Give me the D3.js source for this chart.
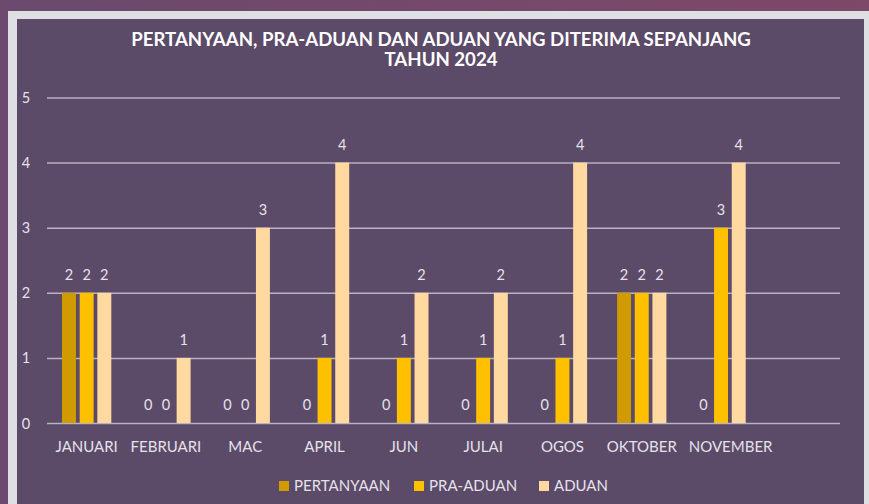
<!DOCTYPE html>
<html><head><meta charset="utf-8">
<script src="https://cdn.jsdelivr.net/npm/d3@7"></script>
<style>
html,body{margin:0;padding:0;overflow:hidden;}
svg{display:block;}
</style></head>
<body>
<svg id="chart" width="869" height="504"></svg>
<script>
const categories = ["JANUARI","FEBRUARI","MAC","APRIL","JUN","JULAI","OGOS","OKTOBER","NOVEMBER",""];
const seriesNames = ["PERTANYAAN","PRA-ADUAN","ADUAN"];
const pertanyaan = [2,0,0,0,0,0,0,2,0,null];
const praAduan   = [2,0,0,1,1,1,1,2,3,null];
const aduan      = [2,1,3,4,2,2,4,2,4,null];
const yTicks = [0,1,2,3,4,5];
const titleLines = ["PERTANYAAN, PRA-ADUAN DAN ADUAN YANG DITERIMA SEPANJANG","TAHUN 2024"];

const colors = ["#D09B00","#FFC000","#FFD9A0"];
const values = [pertanyaan, praAduan, aduan];

const svg = d3.select("#chart");
const W = 869, H = 504;

const defs = svg.append("defs");
const g1 = defs.append("linearGradient").attr("id","bg").attr("x1","0").attr("x2","1").attr("y1","0").attr("y2","0");
g1.append("stop").attr("offset","0").attr("stop-color","#6A4A6E");
g1.append("stop").attr("offset","1").attr("stop-color","#7E4868");
svg.append("rect").attr("width",W).attr("height",H).attr("fill","url(#bg)");
svg.append("rect").attr("x",8).attr("y",11).attr("width",W-8).attr("height",H-11).attr("fill","#DEDFE3");
svg.append("rect").attr("x",17).attr("y",19).attr("width",847).attr("height",H-19).attr("fill","#5B4A68");

const left = 47, right = 840, y0px = 423, y5px = 97.5;
const x0 = d3.scaleBand().domain(d3.range(categories.length)).range([left,right]).padding(0);
const groupW = 49.3;
const x1 = d3.scaleBand().domain(d3.range(seriesNames.length))
  .range([(x0.bandwidth()-groupW)/2,(x0.bandwidth()+groupW)/2]).paddingInner(0.21).paddingOuter(0);
const y = d3.scaleLinear().domain([0,5]).range([y0px,y5px]);

const font = "Lato, 'Open Sans', sans-serif";
const textCol = "#E6E2EA";

const yAxis = d3.axisLeft(y).tickValues(yTicks).tickSize(-(right-left)).tickFormat(d3.format("d"));
const ga = svg.append("g").attr("transform",`translate(${left},0)`).call(yAxis);
ga.select(".domain").remove();
ga.selectAll(".tick line").attr("stroke","#B9B2C2").attr("stroke-width",1.5);
ga.selectAll(".tick text").attr("x",-21).attr("dy","0.35em").attr("fill",textCol)
  .attr("font-family",font).attr("font-size","14.5px").attr("text-anchor","middle");

const gBars = svg.append("g");
values.forEach((vals,si)=>{
  const data = vals.map((v,i)=>({v,i})).filter(d=>d.v!==null);
  gBars.selectAll(null).data(data).enter().append("rect")
    .attr("x",d=>x0(d.i)+x1(si)).attr("width",x1.bandwidth())
    .attr("y",d=>y(d.v)).attr("height",d=>y(0)-y(d.v)).attr("fill",colors[si]);
  gBars.selectAll(null).data(data).enter().append("text")
    .attr("x",d=>x0(d.i)+x1(si)+x1.bandwidth()/2).attr("y",d=>y(d.v)-13)
    .attr("text-anchor","middle").attr("fill",textCol).attr("font-family",font).attr("font-size","14.5px")
    .text(d=>d.v);
});

const xAxis = d3.axisBottom(x0).tickSize(0).tickFormat(i=>categories[i]);
const gx = svg.append("g").attr("transform",`translate(0,${y0px})`).call(xAxis);
gx.select(".domain").remove();
gx.selectAll(".tick text").attr("y",23.5).attr("dy","0.35em").attr("fill",textCol)
  .attr("font-family",font).attr("font-size","15px");
// simple overlap avoidance: keep a minimum gap between neighbouring labels
let prevRight = -Infinity;
gx.selectAll(".tick").each(function(i){
  const t = d3.select(this).select("text");
  const w = t.node().getComputedTextLength();
  if (!w) return;
  const c = x0(i) + x0.bandwidth()/2;
  let l = c - w/2;
  const minGap = 12;
  if (l < prevRight + minGap) { const s = prevRight + minGap - l; t.attr("x", s); l += s; }
  prevRight = l + w;
});

// title, sized to fit reference width
const titleTarget = 620;
const titles = svg.selectAll(".title").data(titleLines).enter().append("text").attr("class","title")
  .attr("x",441).attr("y",(d,i)=>45.5+i*20).attr("text-anchor","middle")
  .attr("fill","#FFFFFF").attr("font-weight","bold")
  .attr("font-family","Lato, 'Open Sans', sans-serif")
  .attr("font-size","16px").text(d=>d);
const w0 = titles.node().getComputedTextLength();
if (w0>0) titles.attr("font-size",(16*titleTarget/w0)+"px");

const legendX = [279,414,539];
const lg = svg.append("g");
seriesNames.forEach((n,i)=>{
  lg.append("rect").attr("x",legendX[i]).attr("y",481).attr("width",10).attr("height",10).attr("fill",colors[i]);
  lg.append("text").attr("x",legendX[i]+15).attr("y",491).attr("fill",textCol)
    .attr("font-family",font).attr("font-size","15px").text(n);
});
</script>
</body></html>
